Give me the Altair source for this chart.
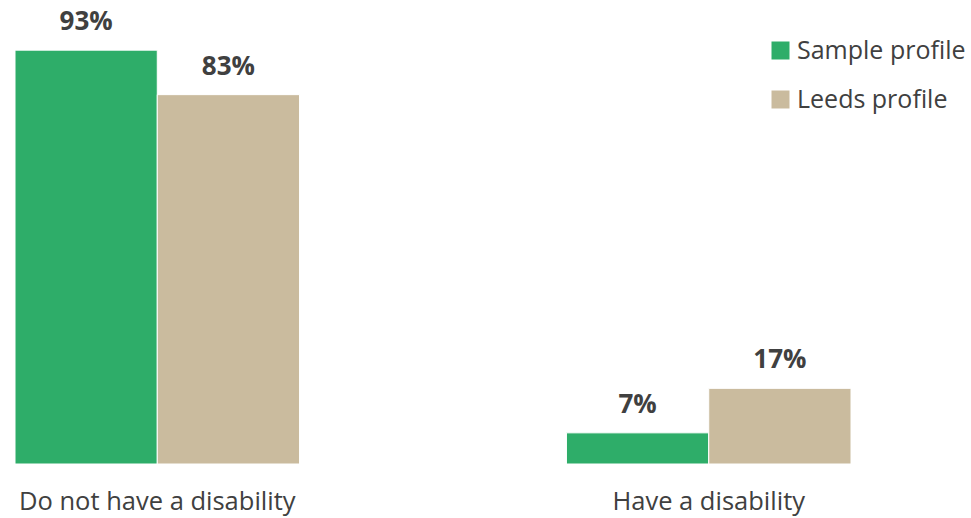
import altair as alt
import pandas as pd

categories = ["Do not have a disability", "Have a disability"]
series = ["Sample profile", "Leeds profile"]
sample_values = [93, 7]
leeds_values = [83, 17]

rows = []
for c, s, l in zip(categories, sample_values, leeds_values):
    rows.append({"Category": c, "Series": series[0], "Value": s, "Label": f"{s}%"})
    rows.append({"Category": c, "Series": series[1], "Value": l, "Label": f"{l}%"})
df = pd.DataFrame(rows)

colors = ["#2EAD69", "#CABB9E"]

x = alt.X("Category:N", sort=categories, title=None,
          scale=alt.Scale(paddingInner=0.484, paddingOuter=0),
          axis=alt.Axis(labelAngle=0, labelFont="Open Sans", labelFontSize=25.5,
                        labelColor="#404040", ticks=False, domain=False,
                        labelPadding=25, labelLimit=500))
xo = alt.XOffset("Series:N", sort=series)
y = alt.Y("Value:Q", scale=alt.Scale(domain=[0, 100]), axis=None)

bars = alt.Chart(df).mark_bar(stroke="white", strokeWidth=1).encode(
    x=x, xOffset=xo, y=y,
    color=alt.Color("Series:N", sort=series,
                    scale=alt.Scale(domain=series, range=colors),
                    legend=alt.Legend(title=None, orient="none", legendX=753, legendY=19,
                                      symbolType="square", symbolSize=324,
                                      symbolStrokeWidth=0,
                                      labelFont="Open Sans", labelFontSize=25,
                                      labelColor="#404040", labelOffset=4,
                                      rowPadding=23, labelLimit=300)),
)

labels = alt.Chart(df).mark_text(baseline="bottom", dy=-15, font="Open Sans",
                                 fontSize=26, fontWeight="bold", color="#404040").encode(
    x=x, xOffset=xo, y=y, text="Label:N"
)

chart = (bars + labels).properties(
    width=836, height=445,
    autosize=alt.AutoSizeParams(type="none"),
    padding={"left": 15, "top": 19, "right": 120, "bottom": 54},
    background="white",
).configure_view(strokeWidth=0, stroke=None)

chart.save("out.html", embed_options={"renderer": "svg", "actions": False})
